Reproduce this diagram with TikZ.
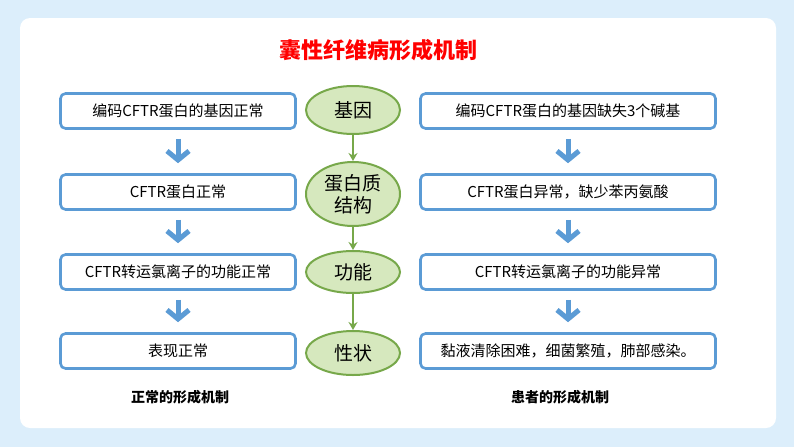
\documentclass[tikz,border=0pt]{standalone}
\usepackage{fontspec}
\newfontfamily\cjk{Noto Sans CJK SC}
\usetikzlibrary{arrows.meta}
\definecolor{bg}{HTML}{DCEEFB}
\definecolor{bbord}{HTML}{5B9BD5}
\definecolor{gfill}{HTML}{D6E8BE}
\definecolor{gbord}{HTML}{77A84A}
\tikzset{
 box/.style={draw=bbord,line width=2.6pt,rounded corners=5pt,fill=white,minimum height=35pt,font=\cjk\fontsize{15}{18}\selectfont,text=black,inner sep=2pt},
 lbox/.style={box,minimum width=235pt},
 rbox/.style={box,minimum width=295pt},
 ell/.style={ellipse,draw=gbord,line width=2pt,fill=gfill,minimum width=94pt,inner sep=0pt,font=\cjk\fontsize{19}{22}\selectfont,align=center},
 garr/.style={draw=gbord,line width=2pt,-{Stealth[length=8pt,width=9pt]}},
 barr/.style={draw=bbord,line width=5pt,-{Straight Barb[length=9pt,width=22pt,line width=5pt]}},
 foot/.style={font=\cjk\bfseries\fontsize{14}{16}\selectfont}
}
\usetikzlibrary{shapes.geometric}
\begin{document}
\begin{tikzpicture}[x=1pt,y=-1pt]
\useasboundingbox (0,0) rectangle (794,447);
\fill[bg] (0,0) rectangle (794,447);
\fill[white,rounded corners=10pt] (20,18) rectangle (776,428);
\node[font=\cjk\bfseries\fontsize{22}{26}\selectfont,text=red] (title) at (378,50) {囊性纤维病形成机制};
\node[lbox] (l1) at (178,111) {编码CFTR蛋白的基因正常};
\node[lbox] (l2) at (178,192) {CFTR蛋白正常};
\node[lbox] (l3) at (178,272) {CFTR转运氯离子的功能正常};
\node[lbox] (l4) at (178,351) {表现正常};
\node[rbox] (r1) at (568,111) {编码CFTR蛋白的基因缺失3个碱基};
\node[rbox] (r2) at (568,192) {CFTR蛋白异常，缺少苯丙氨酸};
\node[rbox] (r3) at (568,272) {CFTR转运氯离子的功能异常};
\node[rbox] (r4) at (568,351) {黏液清除困难，细菌繁殖，肺部感染。};
\node[ell,minimum height=48pt] (e1) at (353,110) {基因};
\node[ell,minimum height=64pt] (e2) at (353,194) {蛋白质\\结构};
\node[ell,minimum height=42pt] (e3) at (353,272) {功能};
\node[ell,minimum height=44pt] (e4) at (353,353) {性状};
\draw[garr] (e1.south) -- (e2.north);
\draw[garr] (e2.south) -- (e3.north);
\draw[garr] (e3.south) -- (e4.north);
\foreach \a/\b in {l1/l2,l2/l3,l3/l4,r1/r2,r2/r3,r3/r4}{
 \draw[barr] ([yshift=-9pt]\a.south) -- ([yshift=10pt]\b.north);
}
\node[foot] (f1) at (180,397) {正常的形成机制};
\node[foot] (f2) at (560,397) {患者的形成机制};
\end{tikzpicture}
\end{document}
